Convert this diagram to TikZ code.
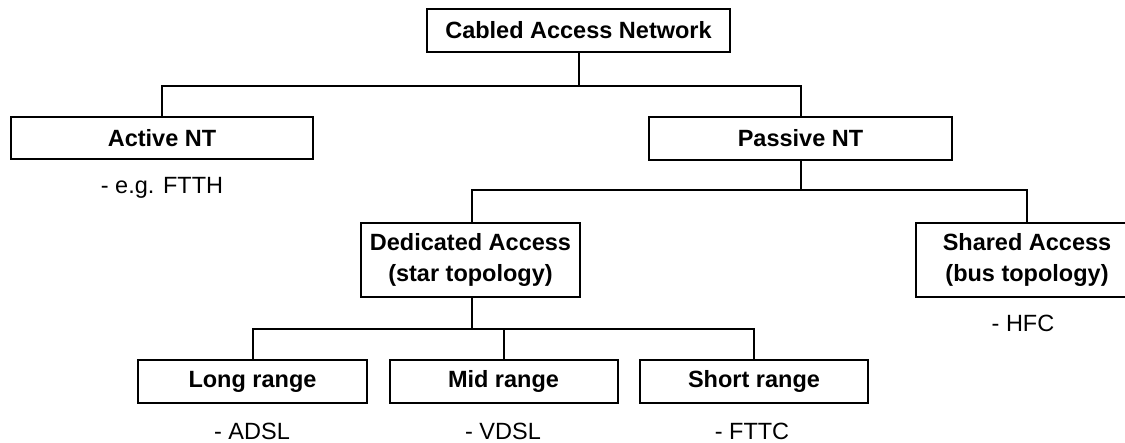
\documentclass[tikz,border=0pt]{standalone}
\usepackage{fontspec}
\setmainfont{Liberation Sans}
\begin{document}
\begin{tikzpicture}[x=1pt,y=-1pt,
  box/.style={draw, line width=2pt, inner sep=0pt, font=\fontsize{23.5}{31}\selectfont\bfseries, align=center},
  lbl/.style={inner sep=0pt, anchor=base, font=\fontsize{23.5}{27}\selectfont},
  conn/.style={line width=2pt}]
\useasboundingbox (0,0) rectangle (1125,443);
\fill[white] (0,0) rectangle (1125,443);
% boxes
\node[box, minimum width=303, minimum height=43] (top) at (578.5,30.5) {Cabled Access Network};
\node[box, minimum width=302, minimum height=42] (act) at (162,138) {Active NT};
\node[box, minimum width=303, minimum height=43] (pas) at (800.5,138.5) {Passive NT};
\node[box, minimum width=219, minimum height=74] (ded) at (470.5,260) {Dedicated Access\\(star topology)};
\node[box, minimum width=222, minimum height=74] (sha) at (1027,260) {Shared Access\\(bus topology)};
\node[box, minimum width=229, minimum height=43] (lng) at (252.5,381.5) {Long range};
\node[box, minimum width=228, minimum height=43] (mid) at (503.5,381.5) {Mid range};
\node[box, minimum width=228, minimum height=43] (sht) at (754,381.5) {Short range};
% labels
\node[lbl] (l1) at (162,194) {- e.g. FTTH};
\node[lbl] (l2) at (1023,332) {- HFC};
\node[lbl] (l3) at (252,440) {- ADSL};
\node[lbl] (l4) at (503,440) {- VDSL};
\node[lbl] (l5) at (752,440) {- FTTC};
% connectors
\coordinate (b1) at (578.5,86);
\draw[conn] (top.south) -- (b1);
\draw[conn] (act.north) |- (b1) -| (pas.north);
\coordinate (b2) at (800.5,190);
\draw[conn] (pas.south) -- (b2);
\draw[conn] ([xshift=1.5pt]ded.north) |- (b2) -| (sha.north);
\coordinate (b3) at (472,329);
\draw[conn] ([xshift=1.5pt]ded.south) -- (b3);
\draw[conn] (lng.north) |- (b3) -| (sht.north);
\draw[conn] (mid.north) -- (mid.north |- b3);
\end{tikzpicture}
\end{document}
